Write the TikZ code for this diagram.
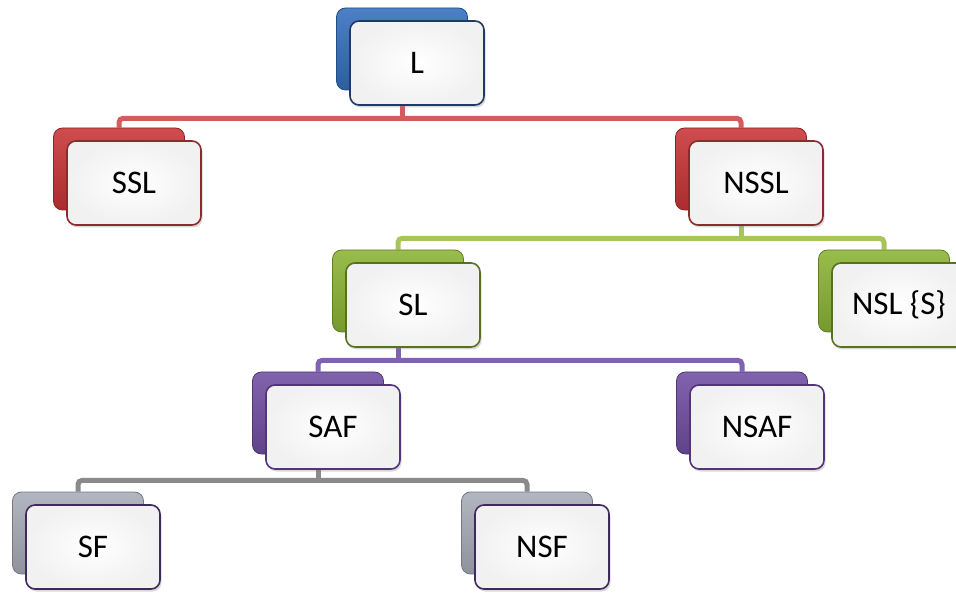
\documentclass[tikz,border=0pt]{standalone}
\usepackage{fontspec}
\setmainfont{Carlito}
\usetikzlibrary{shadows,backgrounds}

% plate colours
\definecolor{plblue}{RGB}{52,110,190}
\definecolor{plred}{RGB}{200,52,54}
\definecolor{plgreen}{RGB}{138,180,52}
\definecolor{plpurple}{RGB}{112,78,162}
\definecolor{plsilver}{RGB}{168,172,184}
% frame colours
\definecolor{frblue}{RGB}{31,58,100}
\definecolor{frred}{RGB}{140,42,46}
\definecolor{frgreen}{RGB}{86,112,36}
\definecolor{frpurple}{RGB}{82,52,122}
\definecolor{frdark}{RGB}{62,42,92}
% line colours
\definecolor{lnred}{RGB}{212,92,92}
\definecolor{lngreen}{RGB}{166,197,90}
\definecolor{lnpurple}{RGB}{128,98,178}
\definecolor{lngrey}{RGB}{138,138,138}

\tikzset{
  backbox/.style={rounded corners=9pt, minimum width=131pt, minimum height=82pt,
    draw=#1!70!black, line width=0.8pt, top color=#1!88!white, bottom color=#1!85!black},
  frontbox/.style={rounded corners=9pt, minimum width=134pt, minimum height=84pt,
    draw=#1, line width=1.6pt, inner color=white, outer color=gray!11,
    drop shadow={opacity=0.3, shadow xshift=1.5pt, shadow yshift=-2.5pt},
    font=\fontsize{33}{40}\selectfont, text=black},
  link/.style={draw=#1, line width=5pt, rounded corners=4pt},
}

\begin{document}
\begin{tikzpicture}[x=1pt,y=-1pt]
\useasboundingbox (0,0) rectangle (956,593);
\clip (0,0) rectangle (956,593);

% level 0
\node[backbox=plblue] (Lb) at (402,49) {};
\node[frontbox=frblue] (L) at ([shift={(15,14)}]Lb.center) {L};

% level 1
\node[backbox=plred] (SSLb) at (119,169) {};
\node[frontbox=frred] (SSL) at ([shift={(15,14)}]SSLb.center) {SSL};
\node[backbox=plred] (NSSLb) at (741,169) {};
\node[frontbox=frred] (NSSL) at ([shift={(15,14)}]NSSLb.center) {NSSL};

% level 2
\node[backbox=plgreen] (SLb) at (398,291) {};
\node[frontbox=frgreen] (SL) at ([shift={(15,14)}]SLb.center) {SL};
\node[backbox=plgreen] (NSLb) at (884,291) {};
\node[frontbox=frgreen] (NSL) at ([shift={(15,14)}]NSLb.center) {NSL \{S\}};

% level 3
\node[backbox=plpurple] (SAFb) at (318,413) {};
\node[frontbox=frpurple] (SAF) at ([shift={(15,14)}]SAFb.center) {SAF};
\node[backbox=plpurple] (NSAFb) at (742,413) {};
\node[frontbox=frpurple] (NSAF) at ([shift={(15,14)}]NSAFb.center) {NSAF};

% level 4
\node[backbox=plsilver] (SFb) at (78,533) {};
\node[frontbox=frdark] (SF) at ([shift={(15,14)}]SFb.center) {SF};
\node[backbox=plsilver] (NSFb) at (527,533) {};
\node[frontbox=frdark] (NSF) at ([shift={(15,14)}]NSFb.center) {NSF};

% connectors
\begin{scope}[on background layer]
\path (Lb.south) ++(0,28) coordinate (Lj);
\draw[link=lnred] (Lb.south) -- (Lj);
\draw[link=lnred] (SSLb.north) |- (Lj) -| (NSSLb.north);

\path (NSSLb.south) ++(0,28) coordinate (NSSLj);
\draw[link=lngreen] (NSSLb.south) -- (NSSLj);
\draw[link=lngreen] (SLb.north) |- (NSSLj) -| (NSLb.north);

\path (SLb.south) ++(0,28) coordinate (SLj);
\draw[link=lnpurple] (SLb.south) -- (SLj);
\draw[link=lnpurple] (SAFb.north) |- (SLj) -| (NSAFb.north);

\path (SAFb.south) ++(0,26) coordinate (SAFj);
\draw[link=lngrey] (SAFb.south) -- (SAFj);
\draw[link=lngrey] (SFb.north) |- (SAFj) -| (NSFb.north);
\end{scope}
\end{tikzpicture}
\end{document}
